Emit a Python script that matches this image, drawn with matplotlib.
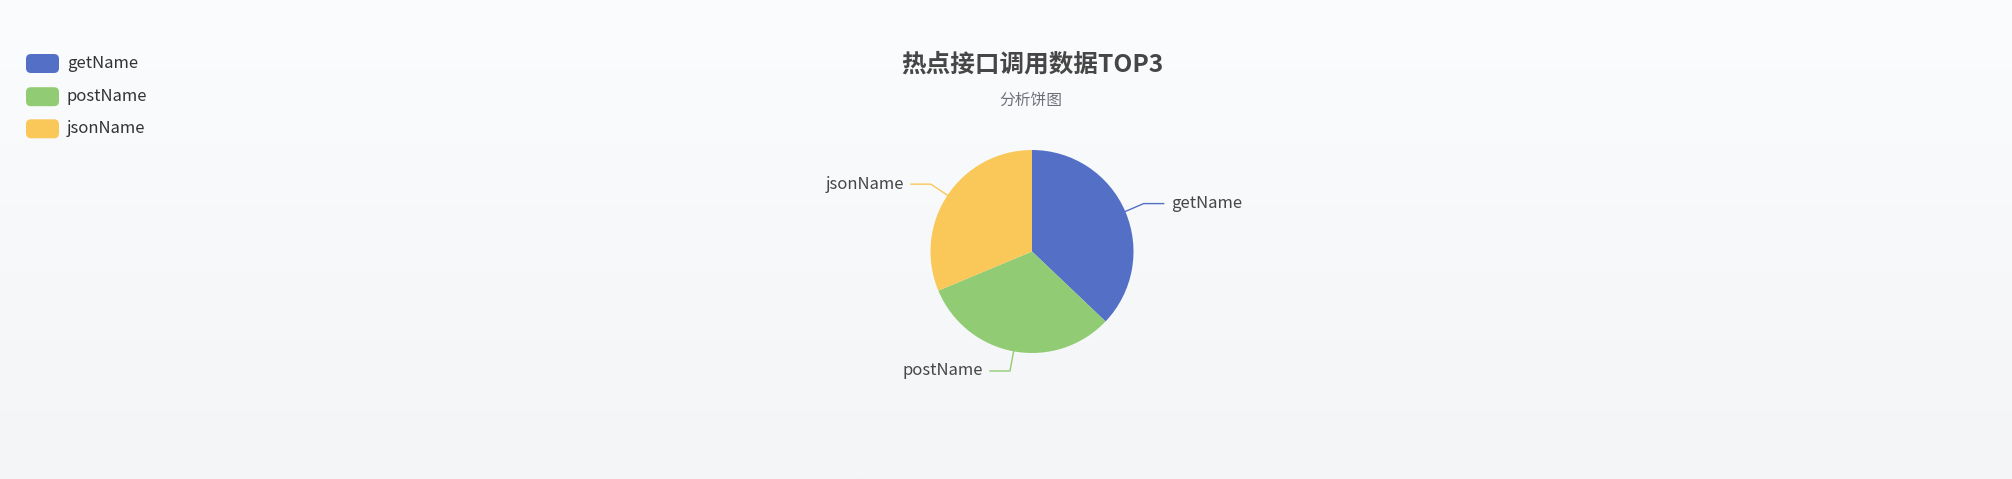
import numpy as np
import matplotlib
matplotlib.use("Agg")
import matplotlib.pyplot as plt
from matplotlib.patches import FancyBboxPatch

plt.rcParams['font.family'] = ['Noto Sans CJK SC', 'DejaVu Sans']

# ---- data ----
labels = ["getName", "postName", "jsonName"]
values = [371, 316, 313]
colors = ["#5470c6", "#91cc75", "#fac858"]
title = "热点接口调用数据TOP3"
subtitle = "分析饼图"

W, H = 2012, 479
fig = plt.figure(figsize=(W / 100, H / 100), dpi=100)
ax = fig.add_axes([0, 0, 1, 1])

# background gradient
grad = np.linspace(0, 1, 256).reshape(-1, 1)
top = np.array([0xfb, 0xfc, 0xfe]) / 255
bot = np.array([0xf4, 0xf5, 0xf7]) / 255
img = top + (bot - top) * grad[..., None]
ax.imshow(img, extent=[0, W, 0, H], aspect='auto', zorder=0, origin='upper')

cx, cy, r = 1032, H - 251.5, 101.5
wedges, _ = ax.pie(values, colors=colors, startangle=90, counterclock=False,
                   center=(cx, cy), radius=r, wedgeprops=dict(linewidth=0))
for w in wedges:
    w.set_zorder(2)

fs = 12.0
L1, L2 = 20, 20
for w, lab, col in zip(wedges, labels, colors):
    th = np.deg2rad((w.theta1 + w.theta2) / 2)
    c, s = np.cos(th), np.sin(th)
    p0 = (cx + r * c, cy + r * s)
    p1 = (cx + (r + L1) * c, cy + (r + L1) * s)
    sign = 1 if c >= 0 else -1
    p2 = (p1[0] + sign * L2, p1[1])
    ax.plot([p0[0], p1[0], p2[0]], [p0[1], p1[1], p2[1]], color=col, lw=1.0, zorder=3,
            solid_joinstyle='miter')
    ax.text(p2[0] + sign * 7, p2[1], lab, ha='left' if sign > 0 else 'right',
            va='center', fontsize=fs, color='#464646', zorder=4)

# title
ax.text(1032, H - 65, title, ha='center', va='center', fontsize=17.7,
        fontweight='bold', color='#464646')
ax.text(1031, H - 100, subtitle, ha='center', va='center', fontsize=11.3,
        color='#6e7079')

# legend
ycs = [63.5, 96.7, 128.8]
for lab, col, yc in zip(labels, colors, ycs):
    y = H - yc
    box = FancyBboxPatch((26, y - 9.5), 33, 19, boxstyle="round,pad=0,rounding_size=5",
                         facecolor=col, edgecolor='none', zorder=3)
    ax.add_patch(box)
    ax.text(67, y, lab, ha='left', va='center', fontsize=fs, color='#333333', zorder=4)

ax.set_xlim(0, W)
ax.set_ylim(0, H)
ax.set_aspect('auto')
ax.axis('off')
fig.savefig("out.png", dpi=100)
